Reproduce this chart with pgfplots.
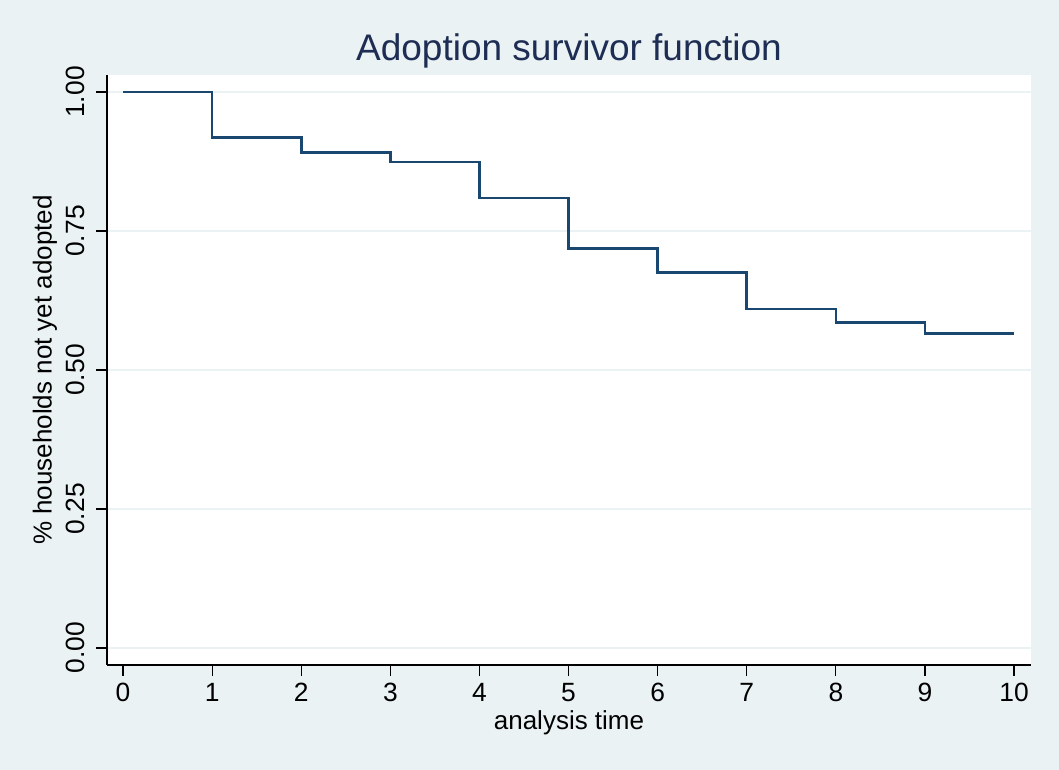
\documentclass[border=0pt]{standalone}
\usepackage{pgfplots}
\pgfplotsset{compat=1.18}
\usepackage{fontspec}
\setmainfont{Liberation Sans}
\definecolor{bg}{HTML}{EAF2F3}
\definecolor{navy}{HTML}{1A476F}
\definecolor{titlec}{HTML}{1E2D53}
\begin{document}
\begin{tikzpicture}
\fill[bg] (0pt,0pt) rectangle (529.5pt,385pt);
\begin{axis}[
  at={(53.5pt,52.5pt)}, anchor=south west,
  scale only axis, width=462pt, height=295pt,
  xmin=-0.18, xmax=10.19, ymin=-0.0306, ymax=1.0306,
  axis x line*=bottom, axis y line*=left,
  axis line style={black, line width=0.7pt},
  axis background/.style={fill=white},
  tick align=outside, major tick length=5.5pt,
  tick style={black, line width=0.6pt},
  xtick={0,1,2,3,4,5,6,7,8,9,10},
  ytick={0,0.25,0.5,0.75,1},
  ymajorgrids, grid style={color=bg, line width=1pt},
  /pgf/number format/assume math mode=true,
  yticklabel style={/pgf/number format/fixed, /pgf/number format/fixed zerofill, /pgf/number format/precision=2, rotate=90, anchor=south, yshift=2pt},
  ticklabel style={font=\fontsize{13.2}{15}\selectfont},
  label style={font=\fontsize{13}{15}\selectfont},
  xlabel={analysis time},
  ylabel={\% households not yet adopted},
  xlabel style={at={(axis description cs:0.5,0)}, anchor=center, yshift=-29pt},
  ylabel style={at={(axis description cs:0,0.5)}, anchor=center, yshift=31pt},
  title={Adoption survivor function},
  title style={at={(axis description cs:0.5,1)}, anchor=center, yshift=6pt, font=\fontsize{18.5}{21}\selectfont, text=titlec},
]
\addplot[const plot, navy, line width=1.3pt, mark=none] coordinates {
(0,1) (1,0.9185) (2,0.891) (3,0.874) (4,0.809) (5,0.719) (6,0.675) (7,0.610) (8,0.585) (9,0.566) (10,0.566)
};
\end{axis}
\end{tikzpicture}
\end{document}
